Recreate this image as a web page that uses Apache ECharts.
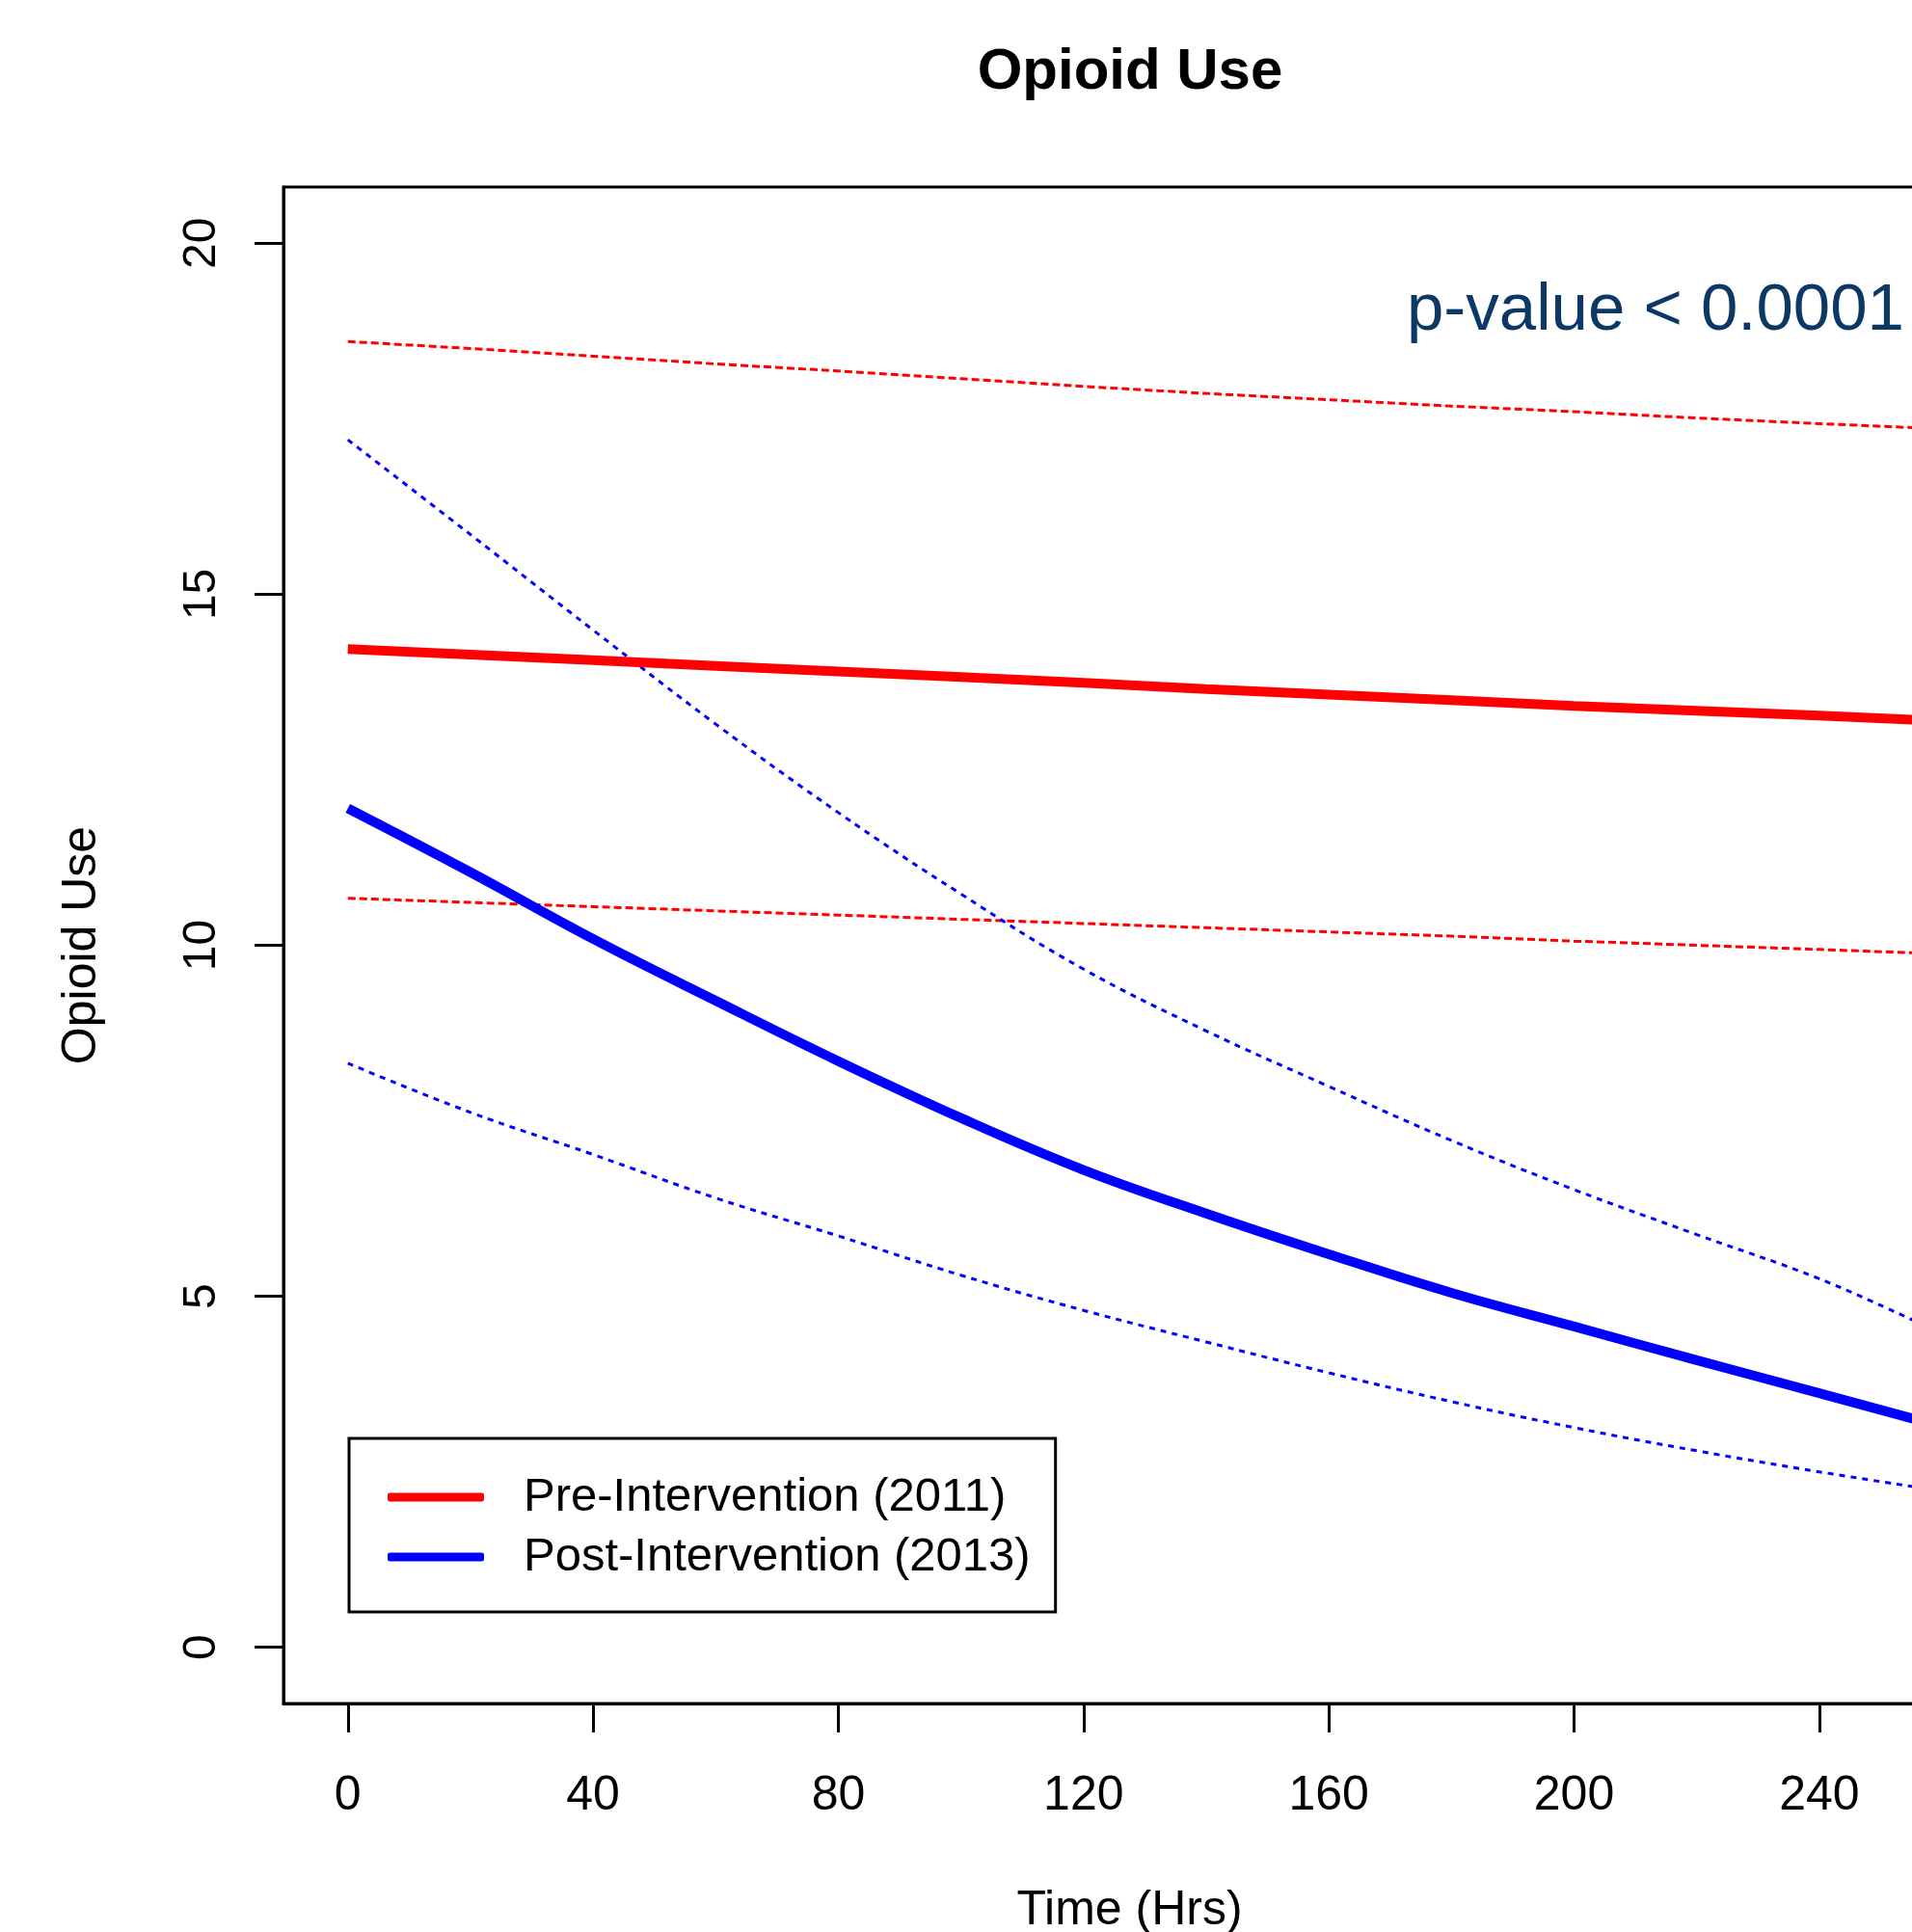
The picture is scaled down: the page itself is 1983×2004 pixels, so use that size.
<!DOCTYPE html>
<html lang="en">
<head>
<meta charset="UTF-8">
<title>Opioid Use</title>
<style type="text/css">
    html, body { margin: 0; padding: 0; background: #fff; }
    #chart { width: 1983px; height: 2004px; }
</style>
</head>
<body>
<div id="chart"></div>
<script src="https://cdn.jsdelivr.net/npm/echarts@6/dist/echarts.min.js"></script>
<script type="text/javascript">
// hours
var hours = [0, 20, 40, 60, 80, 100, 120, 140, 160, 180, 200, 220, 240, 256];
// pre-intervention (2011): fit and confidence band
var preFit   = [14.22, 14.14, 14.06, 13.98, 13.90, 13.82, 13.74, 13.65, 13.57, 13.49, 13.41, 13.34, 13.27, 13.21];
var preUpper = [18.60, 18.50, 18.39, 18.28, 18.18, 18.07, 17.96, 17.86, 17.77, 17.68, 17.60, 17.51, 17.43, 17.37];
var preLower = [10.67, 10.61, 10.55, 10.49, 10.43, 10.37, 10.31, 10.25, 10.19, 10.13, 10.06, 10.00, 9.94, 9.89];
// post-intervention (2013)
var postFit   = [11.95, 11.04, 10.09, 9.21, 8.35, 7.54, 6.80, 6.18, 5.60, 5.05, 4.57, 4.09, 3.62, 3.24];
var postUpper = [17.20, 15.85, 14.49, 13.15, 11.89, 10.73, 9.66, 8.78, 7.99, 7.22, 6.52, 5.88, 5.25, 4.63];
var postLower = [8.32, 7.62, 7.02, 6.40, 5.86, 5.30, 4.80, 4.35, 3.91, 3.50, 3.13, 2.80, 2.50, 2.28];

var xTicks = [0, 40, 80, 120, 160, 200, 240];
var yTicks = [0, 5, 10, 15, 20];

var FONT = '"Liberation Sans", Arial, sans-serif';

function pairs(ys) {
    var out = [];
    for (var i = 0; i < hours.length; i++) {
        out.push([hours[i], ys[i]]);
    }
    return out;
}

function lineSeries(name, ys, color, width, dash, z, smooth) {
    return {
        name: name,
        type: 'line',
        data: pairs(ys),
        showSymbol: false,
        smooth: smooth,
        color: color,
        z: z,
        lineStyle: { color: color, width: width, type: dash },
        emphasis: { disabled: true },
        silent: true
    };
}

var myChart = echarts.init(document.getElementById('chart'), null, { renderer: 'canvas' });
var option = {
    animation: false,
    backgroundColor: '#fff',
    title: {
        text: 'Opioid Use',
        left: 1172,
        top: 45,
        padding: 0,
        textAlign: 'center',
        textStyle: { fontFamily: FONT, fontSize: 60, fontWeight: 'bold', color: '#000' }
    },
    grid: {
        left: 294,
        top: 194,
        width: 1755,
        height: 1573,
        show: true,
        borderColor: '#000',
        borderWidth: 3,
        backgroundColor: 'transparent',
        containLabel: false,
        outerBoundsMode: 'none'
    },
    legend: {
        data: ['Pre-Intervention (2011)', 'Post-Intervention (2013)'],
        orient: 'vertical',
        left: 362,
        top: 1492,
        padding: [36, 26, 32, 40],
        itemWidth: 100,
        itemHeight: 9,
        itemGap: 12,
        icon: 'roundRect',
        borderColor: '#000',
        borderWidth: 3,
        borderRadius: 0,
        backgroundColor: '#fff',
        selectedMode: false,
        textStyle: { fontFamily: FONT, fontSize: 49, lineHeight: 50, color: '#000', padding: [0, 0, 0, 36] }
    },
    xAxis: {
        type: 'value',
        min: -10.5,
        max: 265.5,
        name: 'Time (Hrs)',
        nameLocation: 'middle',
        nameGap: 190,
        nameTextStyle: { fontFamily: FONT, fontSize: 50, color: '#000' },
        splitLine: { show: false },
        axisLine: { show: true, onZero: false, lineStyle: { color: '#000', width: 3 } },
        axisTick: { show: true, inside: false, length: 30, customValues: xTicks, lineStyle: { color: '#000', width: 3 } },
        axisLabel: { customValues: xTicks, margin: 71, fontFamily: FONT, fontSize: 50, color: '#000' }
    },
    yAxis: {
        type: 'value',
        min: -0.8,
        max: 20.8,
        name: 'Opioid Use',
        nameLocation: 'middle',
        nameRotate: 90,
        nameGap: 184,
        nameTextStyle: { fontFamily: FONT, fontSize: 50, color: '#000' },
        splitLine: { show: false },
        axisLine: { show: true, onZero: false, lineStyle: { color: '#000', width: 3 } },
        axisTick: { show: true, inside: false, length: 30, customValues: yTicks, lineStyle: { color: '#000', width: 3 } },
        axisLabel: { customValues: yTicks, rotate: 90, margin: 60, fontFamily: FONT, fontSize: 48, color: '#000' }
    },
    graphic: [
        {
            type: 'text',
            left: 1459,
            top: 288,
            style: { text: 'p-value < 0.0001', font: '69px "Liberation Sans", Arial, sans-serif', fill: '#0c3866' }
        }
    ],
    series: [
        lineSeries('Pre upper', preUpper, '#ff0000', 3, [8, 4], 2, false),
        lineSeries('Pre lower', preLower, '#ff0000', 3, [8, 4], 2, false),
        lineSeries('Post upper', postUpper, '#0000ff', 3, [6, 6], 2, 0.4),
        lineSeries('Post lower', postLower, '#0000ff', 3, [6, 6], 2, 0.4),
        lineSeries('Pre-Intervention (2011)', preFit, '#ff0000', 10, 'solid', 3, false),
        lineSeries('Post-Intervention (2013)', postFit, '#0000ff', 10, 'solid', 3, 0.4)
    ]
};
myChart.setOption(option);
</script>
</body>
</html>
